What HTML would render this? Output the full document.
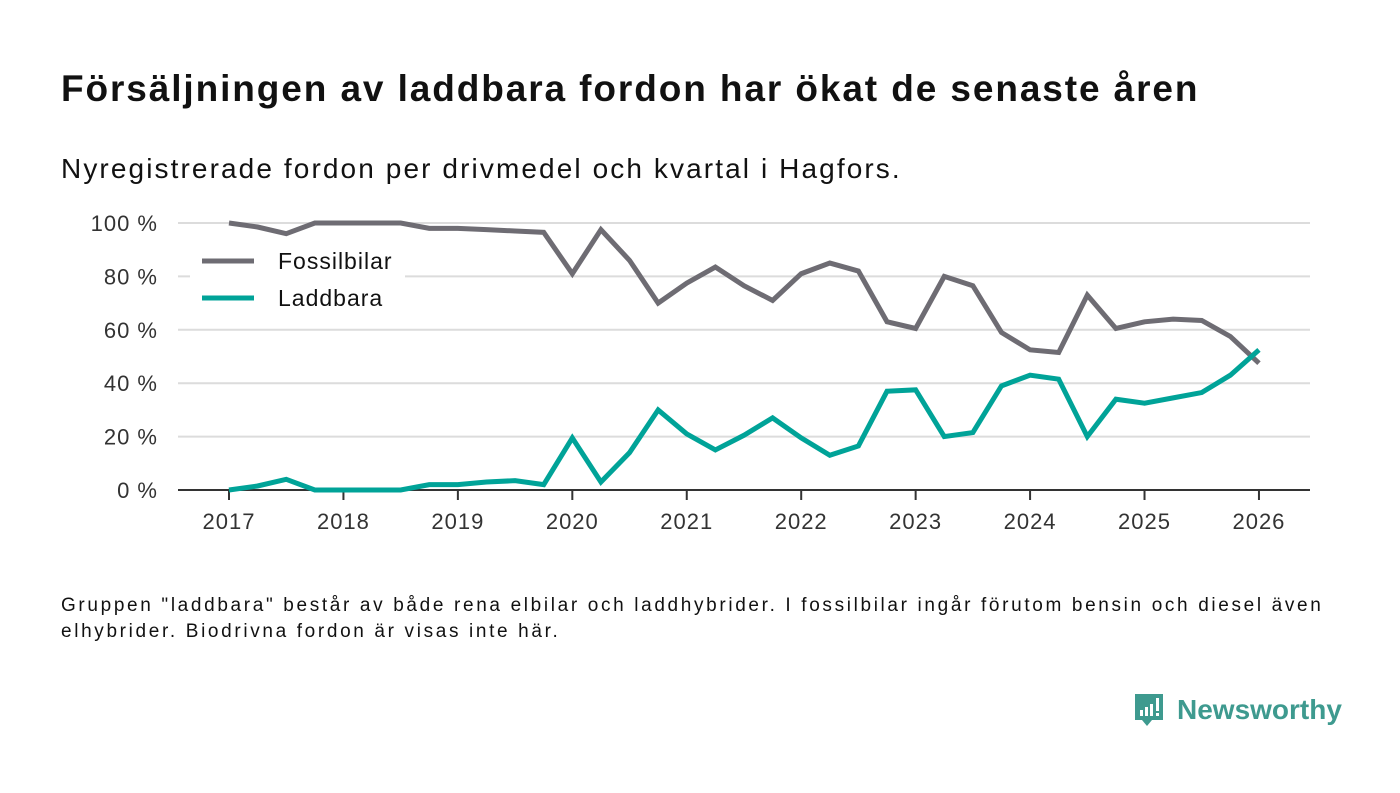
<!DOCTYPE html>
<html><head><meta charset="utf-8"><style>
body{margin:0;width:1400px;height:793px;background:#fff;font-family:"Liberation Sans","DejaVu Sans",sans-serif;position:relative;overflow:hidden}
.t{position:absolute;left:61px;top:68px;font-size:37px;font-weight:bold;color:#111;margin:0;letter-spacing:1.9px;white-space:nowrap}
.s{position:absolute;left:61px;top:153px;font-size:28px;color:#111;letter-spacing:2.1px;white-space:nowrap}
.n{position:absolute;left:61px;top:593px;font-size:19px;line-height:26px;color:#111;width:1275px;letter-spacing:2.65px}
.logo{position:absolute;left:1133px;top:692px}
svg text{letter-spacing:1px}
</style></head><body>
<h1 class="t">Försäljningen av laddbara fordon har ökat de senaste åren</h1>
<div class="s">Nyregistrerade fordon per drivmedel och kvartal i Hagfors.</div>
<svg id="chart" width="1400" height="560" style="position:absolute;left:0;top:0"></svg>
<div class="n">Gruppen "laddbara" består av både rena elbilar och laddhybrider. I fossilbilar ingår förutom bensin och diesel även elhybrider. Biodrivna fordon är visas inte här.</div>
<svg class="logo" width="210" height="44">
<path d="M2 2h28v26H19l-5 6-5-6H2z" fill="#3e9a8f"/>
<rect x="7" y="18" width="3" height="6" fill="#fff"/><rect x="12" y="15" width="3" height="9" fill="#fff"/><rect x="17" y="12" width="3" height="12" fill="#fff"/><rect x="23" y="6" width="3" height="13" fill="#fff"/><rect x="23" y="21" width="3" height="3" fill="#fff"/>
<text x="44" y="27" font-size="28" font-weight="bold" fill="#3e9a8f" style="letter-spacing:0" font-family="Liberation Sans, sans-serif">Newsworthy</text>
</svg>
<script>
const years=["2017","2018","2019","2020","2021","2022","2023","2024","2025","2026"];
const yTicks=[0,20,40,60,80,100];
const fossil=[100,98.5,96,100,100,100,100,98,98,97.5,97,96.5,81,97.5,86,70,77.5,83.5,76.5,71,81,85,82,63,60.5,80,76.5,59,52.5,51.5,73,60.5,63,64,63.5,57.5,47.5];
const laddbara=[0,1.5,4,0,0,0,0,2,2,3,3.5,2,19.5,3,14,30,21,15,20.5,27,19.5,13,16.5,37,37.5,20,21.5,39,43,41.5,20,34,32.5,34.5,36.5,43,52.5];
const svg=document.getElementById('chart');const NS='http://www.w3.org/2000/svg';
const x0=229,yearW=114.44,yB=490,yT=223;
const xq=i=>x0+i*yearW/4;const y=v=>yB-(yB-yT)*v/100;
function mk(tag,a,p){const e=document.createElementNS(NS,tag);for(const k in a)e.setAttribute(k,a[k]);(p||svg).appendChild(e);return e;}
yTicks.forEach(v=>{
 if(v>0){const g=mk('line',{x1:178,x2:1310,y1:y(v),y2:y(v),stroke:'#dcdcdc','stroke-width':2});
 
 }
 const t=mk('text',{x:158,y:y(v)+8,'text-anchor':'end','font-size':22,fill:'#333'});t.textContent=v+' %';
 
 
});
const ax=mk('line',{x1:178,x2:1310,y1:yB,y2:yB,stroke:'#333','stroke-width':2});


years.forEach((yr,i)=>{const xx=x0+i*yearW;
 const tk=mk('line',{x1:xx,x2:xx,y1:yB,y2:yB+10,stroke:'#333','stroke-width':2});
 
 
 const t=mk('text',{x:xx,y:529,'text-anchor':'middle','font-size':22,fill:'#333'});t.textContent=yr;
 
 
});
const lb=mk('rect',{x:190,y:240,width:215,height:80,fill:'#fff'});


function line(d,c,n){const p=mk('polyline',{points:d.map((v,i)=>xq(i)+','+y(v)).join(' '),fill:'none',stroke:c,'stroke-width':5,'stroke-linejoin':'miter'});
 
 }
line(fossil,'#6e6c73','fossilbilar-line');
line(laddbara,'#00a398','laddbara-line');
[['Fossilbilar','#6e6c73',261],['Laddbara','#00a398',298]].forEach(([l,c,yy])=>{
 const g=mk('g',{});
 
 
 mk('line',{x1:202,x2:254,y1:yy,y2:yy,stroke:c,'stroke-width':5},g);
 const t=mk('text',{x:278,y:yy+8,'font-size':23,fill:'#111'},g);t.textContent=l;});
</script>
</body></html>
